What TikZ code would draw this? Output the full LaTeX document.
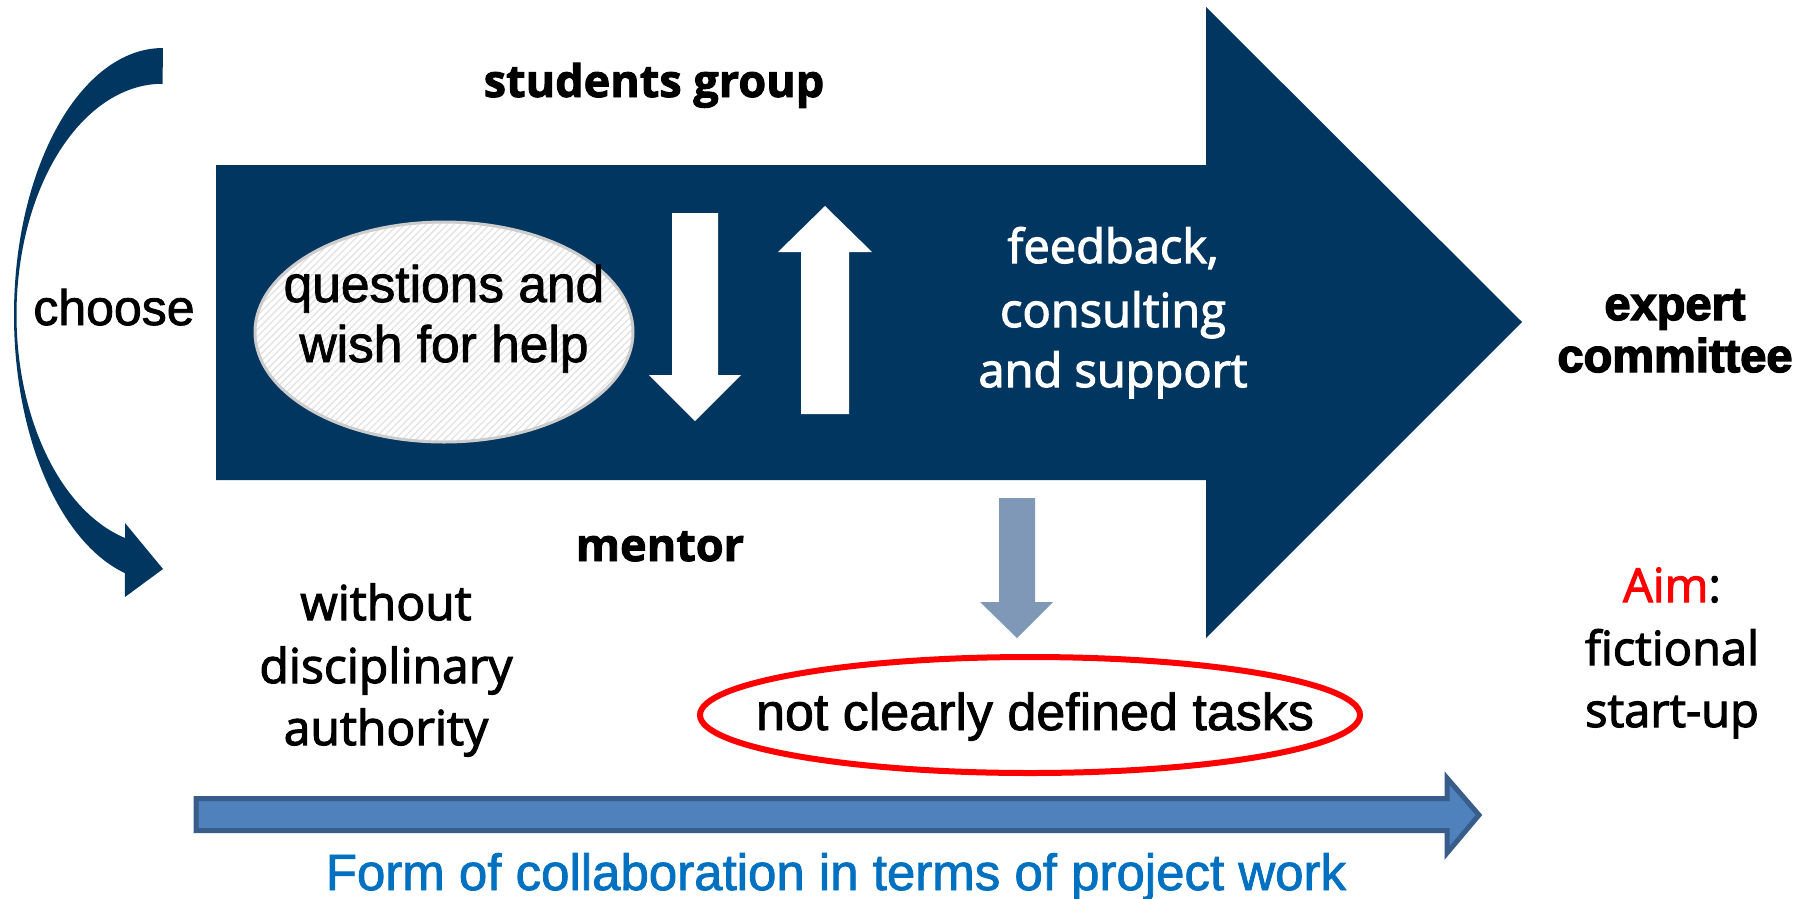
\documentclass[tikz,border=0pt]{standalone}
\usepackage{fontspec}
\setmainfont{Liberation Sans}[FakeBold=1.6]
\newfontfamily\arialbold{Liberation Sans}[UprightFont=* Bold, FakeBold=3]
\newfontfamily\franklin{Open Sans}[FakeBold=2.4]
\newfontfamily\franklindemi{Open Sans}[UprightFont=* Bold, FakeBold=2]
\usetikzlibrary{patterns.meta}

\definecolor{navy}{HTML}{00365F}
\definecolor{slate}{HTML}{7F98B8}
\definecolor{barfill}{HTML}{4F81BD}
\definecolor{barline}{HTML}{385D8A}
\definecolor{linkblue}{HTML}{0070C0}
\definecolor{hatch}{HTML}{E3E3E3}

\begin{document}
\begin{tikzpicture}[x=1pt,y=-1pt,
  lbl/.style={inner sep=0pt, anchor=base},
  headbold/.style={lbl, font=\franklindemi\fontsize{45}{54}\selectfont},
  book/.style={lbl, font=\franklin\fontsize{47}{56}\selectfont},
  plain/.style={lbl, font=\fontsize{51.5}{60}\selectfont},
  heavy/.style={lbl, font=\arialbold\fontsize{47}{55}\selectfont}]

\useasboundingbox (0,0) rectangle (1808,898);

% main block arrow: students group -> expert committee
\fill[navy] (216,165) -- (1206,165) -- (1206,7) -- (1522,322)
  -- (1206,638) -- (1206,480) -- (216,480) -- cycle;

% curved "choose" arrow on the left
\fill[navy] (163,48) arc[start angle=270, end angle=104.8, x radius=149, y radius=267]
  -- (125,597) -- (163,569) -- (125,523) -- (125,538)
  arc[start angle=104.9, end angle=270, x radius=146, y radius=231] -- cycle;

% hatched ellipse with the students' questions
\fill[white] (444,332) ellipse [x radius=189, y radius=110];
\fill[pattern={Lines[angle=45, distance=5pt, line width=1.3pt]}, pattern color=hatch]
  (444,332) ellipse [x radius=189, y radius=110];
\draw[hatch!90!black, line width=3] (444,332) ellipse [x radius=189, y radius=110];

% white exchange arrows
\fill[white] (672,213) -- (718,213) -- (718,375) -- (741,375) -- (695,421)
  -- (649,375) -- (672,375) -- cycle;
\fill[white] (801,414) -- (801,252) -- (778,252) -- (825,206) -- (872,252)
  -- (849,252) -- (849,414) -- cycle;

% grey arrow down to the tasks
\fill[slate] (999,498) -- (1035,498) -- (1035,602) -- (1053,602) -- (1017,638)
  -- (980,602) -- (999,602) -- cycle;

% red ellipse around the tasks
\draw[red, line width=6] (1030,715) ellipse [x radius=330, y radius=58];

% bottom timeline arrow
\filldraw[fill=barfill, draw=barline, line width=5, line join=miter]
  (196,798.5) -- (1447,798.5) -- (1447,778) -- (1479,815) -- (1447,853)
  -- (1447,830.5) -- (196,830.5) -- cycle;

% labels
\node[headbold] (students) at (654,97) {students group};
\node[plain, font=\fontsize{50}{58}\selectfont] (choose) at (114,325) {choose};

\node[plain] (ask1) at (444,302) {questions and};
\node[plain] (ask2) at (444,362) {wish for help};

\node[book, text=white] (fb1) at (1113,263) {feedback,};
\node[book, text=white] (fb2) at (1113,327) {consulting};
\node[book, text=white] (fb3) at (1113,387) {and support};

\node[heavy] (exp1) at (1675,320) {expert};
\node[heavy] (exp2) at (1675,372) {committee};

\node[headbold] (mentor) at (660,561) {mentor};

\node[book, font=\franklin\fontsize{48}{56}\selectfont] (wo1) at (386,620) {without};
\node[book, font=\franklin\fontsize{48}{56}\selectfont] (wo2) at (386,683) {disciplinary};
\node[book, font=\franklin\fontsize{48}{56}\selectfont] (wo3) at (386,745) {authority};

\node[book] (aim1) at (1672,602) {\textcolor{red}{Aim}:};
\node[book] (aim2) at (1672,665) {fictional};
\node[book] (aim3) at (1672,727) {start-up};

\node[plain, font=\fontsize{52}{62}\selectfont] (tasks) at (1035,730) {not clearly defined tasks};

\node[plain, font=\fontsize{51}{61}\selectfont, text=linkblue] (form) at (836,890)
  {Form of collaboration in terms of project work};
\end{tikzpicture}
\end{document}
